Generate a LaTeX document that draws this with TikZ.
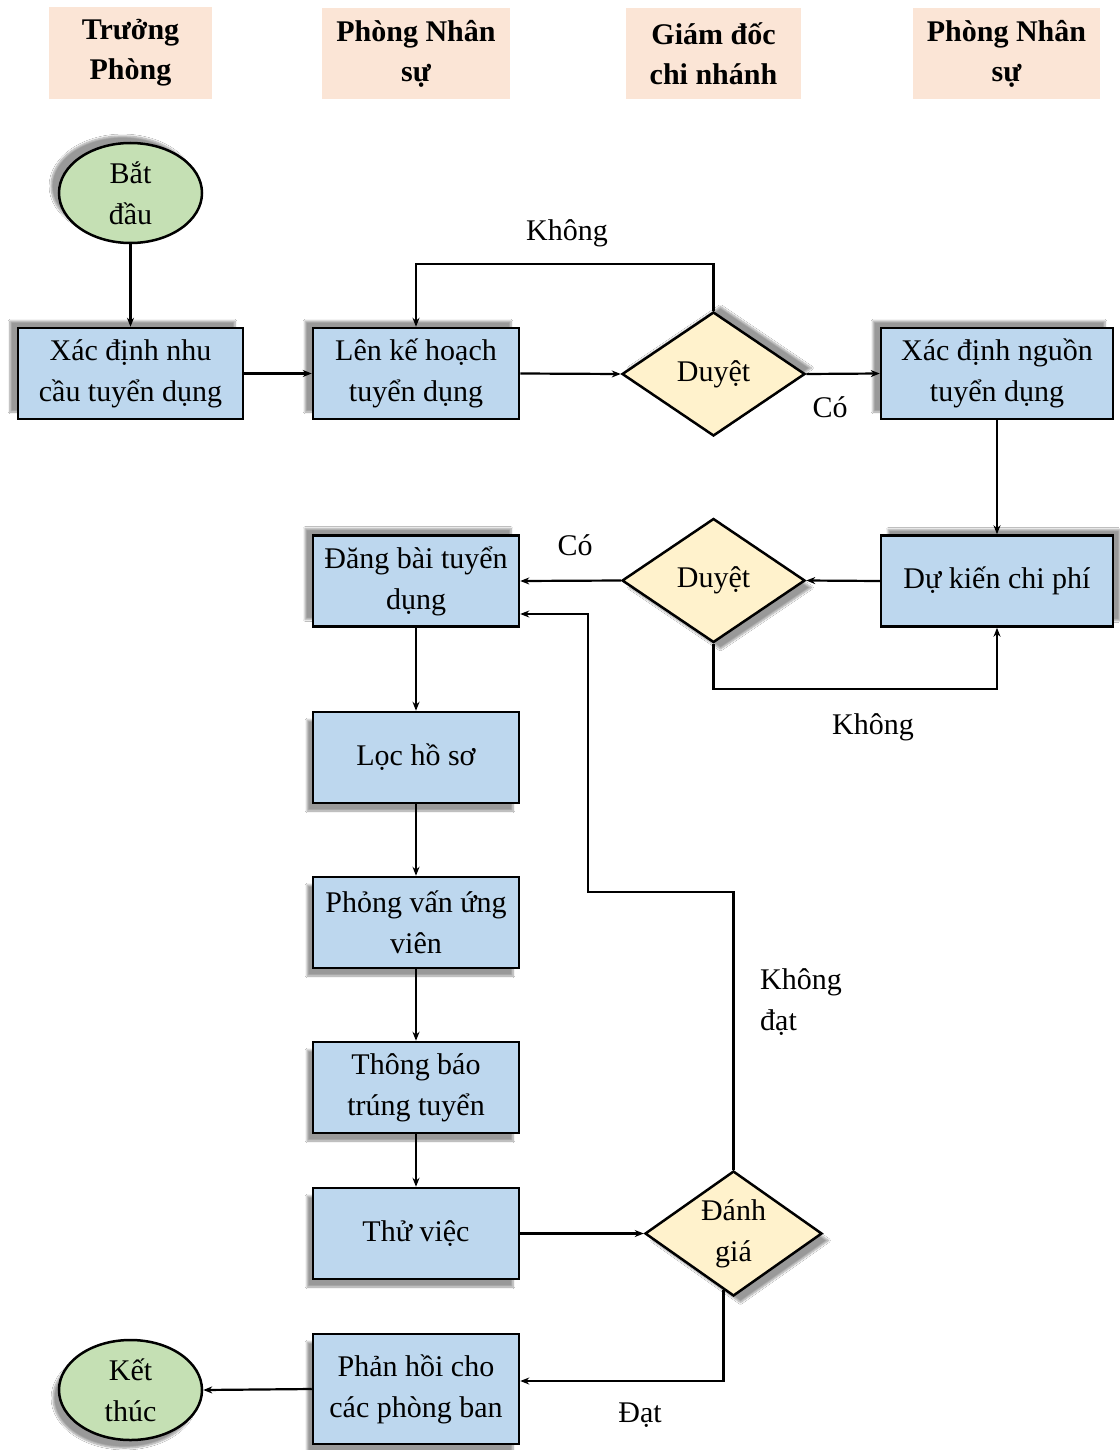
\documentclass[tikz,border=0pt]{standalone}
\usepackage{fontspec}
\setmainfont{Liberation Serif}
\usetikzlibrary{shapes.geometric,arrows.meta,shadows.blur}
\definecolor{boxblue}{HTML}{BDD7EE}
\definecolor{okgreen}{HTML}{C5E0B4}
\definecolor{decyellow}{HTML}{FFF2CC}
\definecolor{headpeach}{HTML}{FBE5D6}
\tikzset{
  txt/.style={font=\fontsize{30}{41}\selectfont, align=center},
  head/.style={font=\bfseries\fontsize{30}{40}\selectfont, align=center, fill=headpeach, inner sep=0pt},
  box/.style={txt, draw=black, line width=2.5pt, fill=boxblue, rectangle, minimum width=206pt, minimum height=91pt, inner sep=0pt},
  dia/.style={txt, draw=black, line width=2.5pt, fill=decyellow, diamond, aspect=1.4, minimum width=183pt, minimum height=124pt, inner sep=0pt},
  term/.style={draw=black, line width=2.5pt, fill=okgreen, ellipse, minimum width=143pt, minimum height=100pt, inner sep=0pt},
  shUL/.style={blur shadow={shadow xshift=-8pt, shadow yshift=7pt, shadow opacity=40, shadow blur steps=8}},
  shDL/.style={blur shadow={shadow xshift=-6pt, shadow yshift=-8pt, shadow opacity=40, shadow blur steps=8}},
  shUR/.style={blur shadow={shadow xshift=7pt, shadow yshift=6pt, shadow opacity=40, shadow blur steps=8}},
  shDR/.style={blur shadow={shadow xshift=7pt, shadow yshift=-7pt, shadow opacity=40, shadow blur steps=8}},
  arr/.style={line width=2.2pt, -{Stealth[length=9pt,width=7pt]}},
  ln/.style={line width=2.2pt},
  lbl/.style={txt, inner sep=0pt}
}
\begin{document}
\begin{tikzpicture}[x=1pt,y=-1pt]
\useasboundingbox[fill=white] (0,0) rectangle (1119,1450);
% lane headers
\node[head, minimum width=163pt, minimum height=92pt] (h1) at (130.5,53) {Trưởng\\Phòng};
\node[head, minimum width=188pt, minimum height=91pt] (h2) at (416,53.5) {Phòng Nhân\\sự};
\node[head, minimum width=175pt, minimum height=91pt] (h3) at (713.5,53.5) {Giám đốc\\chi nhánh};
\node[head, minimum width=187pt, minimum height=91pt] (h4) at (1006.5,53.5) {Phòng Nhân\\sự};
% terminals
\node[term, shUL, label={[txt]center:Bắt\\đầu}] (start) at (130.5,193) {};
\node[term, shDL, label={[txt]center:Kết\\thúc}] (end) at (130.5,1390) {};
% process boxes
\node[box, shUL, minimum width=225pt] (b1) at (130.5,373.5) {Xác định nhu\\cầu tuyển dụng};
\node[box, shUL] (b2) at (416,373.5) {Lên kế hoạch\\tuyển dụng};
\node[box, shUL, minimum width=232pt] (b3) at (997,373.5) {Xác định nguồn\\tuyển dụng};
\node[box, shUR, minimum width=232pt] (b4) at (997,581) {Dự kiến chi phí};
\node[box, shUL] (b5) at (416,581) {Đăng bài tuyển\\dụng};
\node[box, shDL] (b6) at (416,757.5) {Lọc hồ sơ};
\node[box, shDL] (b7) at (416,922.5) {Phỏng vấn ứng\\viên};
\node[box, shDL] (b8) at (416,1087.5) {Thông báo\\trúng tuyển};
\node[box, shDL] (b9) at (416,1233.5) {Thử việc};
\node[box, shDL, minimum height=110pt] (b10) at (416,1389) {Phản hồi cho\\các phòng ban};
% decisions
\node[dia, shUR] (d1) at (713.5,374) {Duyệt};
\node[dia, shDR] (d2) at (713.5,580.5) {Duyệt};
\node[dia, shDR, minimum width=177pt, minimum height=125pt, label={[txt]center:Đánh\\giá}] (d3) at (733.5,1233.5) {};
% helper coordinates
\coordinate (k1) at (713.5,264);
\coordinate (k2) at (416,264);
\coordinate (k3) at (713.5,689);
\coordinate (k4) at (733.5,892);
\coordinate (k5) at (588,892);
\coordinate (k6) at (588,614);
% connectors
\draw[arr] (start.south) -- (b1.north);
\draw[arr] (b1.east) -- (b2.west);
\draw[arr] (b2.east) -- (d1.west);
\draw[arr] (d1.east) -- (b3.west);
\draw[arr] (d1.north) -- (k1) -- (k2) -- (b2.north);
\draw[arr] (b3.south) -- (b4.north);
\draw[arr] (b4.west) -- (d2.east);
\draw[arr] (d2.west) -- (b5.east);
\draw[arr] (d2.south) -- (k3) -| (b4.south);
\draw[arr] (b5.south) -- (b6.north);
\draw[arr] (b6.south) -- (b7.north);
\draw[arr] (b7.south) -- (b8.north);
\draw[arr] (b8.south) -- (b9.north);
\draw[arr] (b9.east) -- (d3.west);
\draw[arr] (d3.north) -- (k4) -- (k5) -- (k6) -- (b5.east |- k6);
\draw[arr] (d3.260) |- ([yshift=8pt]b10.east);
\draw[arr] (b10.west) -- (end.east);
% labels
\node[lbl] (l1) at (567,233) {Không};
\node[lbl] (l2) at (830,407) {Có};
\node[lbl] (l3) at (575,545) {Có};
\node[lbl] (l4) at (873,727) {Không};
\node[lbl, align=left, anchor=west] (l5) at (760,1002) {Không\\đạt};
\node[lbl] (l6) at (640,1415) {Đạt};
\end{tikzpicture}
\end{document}
